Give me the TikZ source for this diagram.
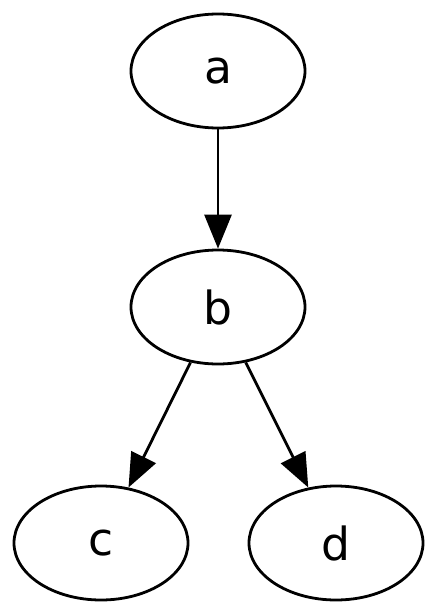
\documentclass[tikz,border=0pt]{standalone}
\usepackage{fontspec}
\setmainfont{DejaVu Sans}
\usetikzlibrary{arrows.meta,shapes.geometric}
\begin{document}
\begin{tikzpicture}[x=0.5pt,y=-0.5pt,
  gnode/.style={ellipse,draw=black,line width=1.4pt,minimum width=87pt,minimum height=57pt,inner sep=0pt,font=\fontsize{22.8}{27}\selectfont},
  gedge/.style={draw=black,line width=1.4pt,-{Triangle[length=17pt,width=13.5pt]}}]
\useasboundingbox (0,0) rectangle (440,615);
\node[gnode] (a) at (218,71) {a};
\node[gnode] (b) at (218,307) {b};
\node[gnode] (c) at (101,543) {c};
\node[gnode] (d) at (336,543) {d};
\draw[gedge] (a) -- (b);
\draw[gedge] (b) -- (c);
\draw[gedge] (b) -- (d);
\end{tikzpicture}
\end{document}
